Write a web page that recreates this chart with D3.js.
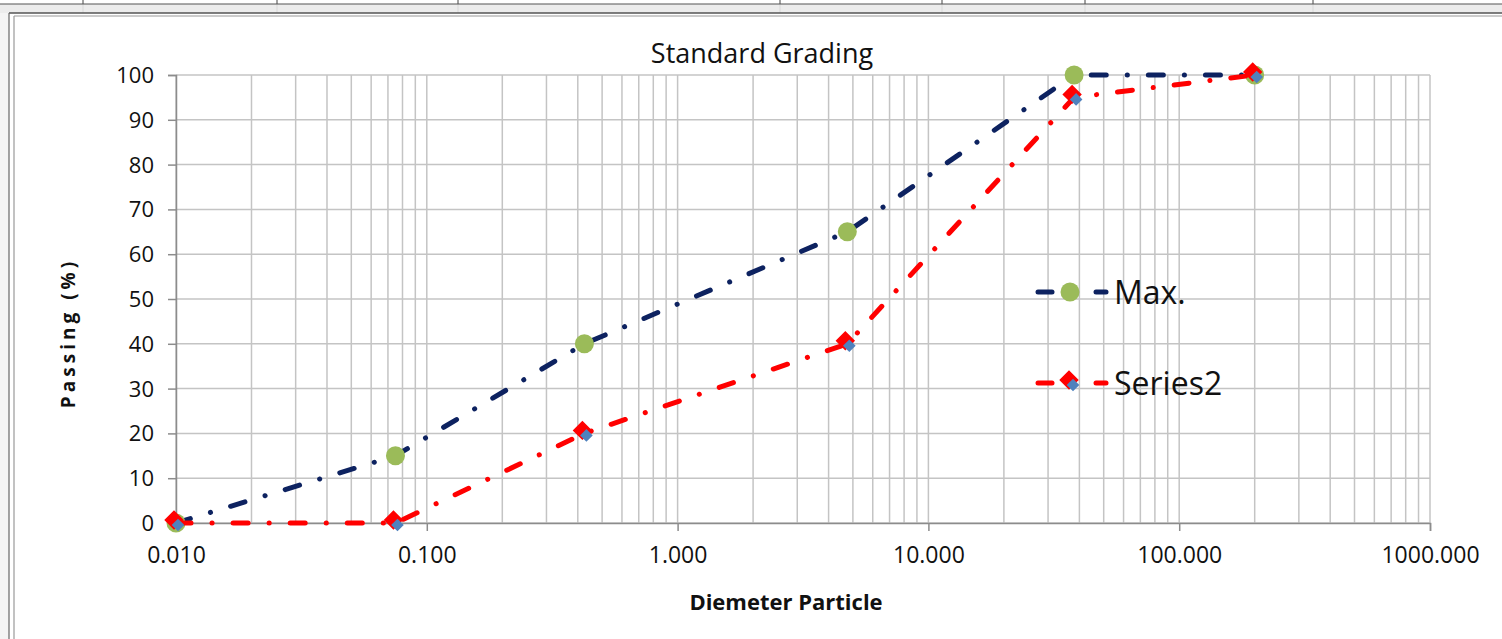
<!DOCTYPE html>
<html><head><meta charset="utf-8">
<script src="https://cdn.jsdelivr.net/npm/d3@7"></script>
<style>
html,body{margin:0;padding:0;background:#fff;}
svg{display:block;}
text{font-family:"Open Sans",sans-serif;}
</style></head>
<body>
<script>
// ---- data ----
const sizes = [0.01, 0.075, 0.425, 4.75, 38.1, 200];
const maxValues = [0, 15, 40, 65, 100, 100];
const series2Values = [0, 0, 20, 40, 95, 100];
const seriesNames = ["Max.", "Series2"];
const xTickValues = [0.01, 0.1, 1, 10, 100, 1000];
const yTickValues = [0, 10, 20, 30, 40, 50, 60, 70, 80, 90, 100];
const chartTitle = "Standard Grading";
const xTitle = "Diemeter Particle";
const yTitle = "Passing (%)";

const W = 1502, H = 639;
const svg = d3.select("body").append("svg").attr("width", W).attr("height", H);

// spreadsheet backdrop
svg.append("rect").attr("x",0).attr("y",0).attr("width",W).attr("height",H).attr("fill","#fff");
svg.append("rect").attr("x",0).attr("y",4).attr("width",W).attr("height",9).attr("fill","#ececec");
[83,277,458,780,942,1085,1313].forEach(x=>{
  svg.append("line").attr("x1",x).attr("x2",x).attr("y1",0).attr("y2",4).attr("stroke","#444").attr("stroke-width",1);
  svg.append("line").attr("x1",x).attr("x2",x).attr("y1",4).attr("y2",13).attr("stroke","#d8d8d8").attr("stroke-width",1);
});
svg.append("line").attr("x1",0).attr("x2",W).attr("y1",4).attr("y2",4).attr("stroke","#555").attr("stroke-width",1.2);
svg.append("line").attr("x1",9).attr("x2",W).attr("y1",13).attr("y2",13).attr("stroke","#555").attr("stroke-width",1.5);
svg.append("rect").attr("x",0).attr("y",13).attr("width",9).attr("height",H-13).attr("fill","#f4f4f4");
svg.append("line").attr("x1",9).attr("x2",9).attr("y1",13).attr("y2",H).attr("stroke","#666").attr("stroke-width",1.2);
svg.append("line").attr("x1",14).attr("x2",14).attr("y1",16).attr("y2",H).attr("stroke","#999").attr("stroke-width",1.2);
svg.append("line").attr("x1",14).attr("x2",W).attr("y1",16).attr("y2",16).attr("stroke","#999").attr("stroke-width",1.2);

// scales
const x = d3.scaleLog().domain([0.01, 1000]).range([176, 1430]);
const y = d3.scaleLinear().domain([0, 100]).range([523, 75]);

// gridlines
const g = svg.append("g");
const minor = [];
for (let e = -2; e < 3; e++) for (let m = 1; m <= 9; m++) minor.push(m * Math.pow(10, e));
minor.push(1000);
g.selectAll(".vg").data(minor).join("line")
  .attr("x1", d=>x(d)).attr("x2", d=>x(d)).attr("y1", y(0)).attr("y2", y(100))
  .attr("stroke", "#c4c4c4").attr("stroke-width", 1.5);
g.selectAll(".hg").data(yTickValues).join("line")
  .attr("x1", x(0.01)).attr("x2", x(1000)).attr("y1", d=>y(d)).attr("y2", d=>y(d))
  .attr("stroke", "#c4c4c4").attr("stroke-width", 1.5);

// axes
const yAxis = svg.append("g").attr("transform", `translate(${x(0.01)},0)`)
  .call(d3.axisLeft(y).tickValues(yTickValues).tickSize(8).tickPadding(14).tickFormat(d3.format("d")));
const xAxis = svg.append("g").attr("transform", `translate(0,${y(0)})`)
  .call(d3.axisBottom(x).tickValues(xTickValues).tickSize(8).tickPadding(16).tickFormat(d3.format(".3f")));
[yAxis, xAxis].forEach(a=>{
  a.select(".domain").attr("stroke","#8c8c8c").attr("stroke-width",1.5);
  a.selectAll(".tick line").attr("stroke","#8c8c8c").attr("stroke-width",1.5);
  a.selectAll("text").attr("fill","#111").style("font-family","'Open Sans',sans-serif");
});
yAxis.selectAll("text").style("font-size","22px").attr("dy","0.34em");
xAxis.selectAll("text").style("font-size","23px");

// titles
svg.append("text").attr("x", 762).attr("y", 63).attr("text-anchor","middle")
  .style("font-size","27px").attr("fill","#111").text(chartTitle);
svg.append("text").attr("x", 786).attr("y", 610).attr("text-anchor","middle")
  .style("font-size","22px").style("font-weight","bold").attr("fill","#111")
  .text(xTitle);
svg.append("text").attr("transform","translate(75,333) rotate(-90)").attr("text-anchor","middle")
  .style("font-size","19px").style("font-weight","bold").style("letter-spacing","4px").attr("fill","#111")
  .text(yTitle);

// series
const navy = "#0d2260", red = "#ff0000", green = "#9bbb59", blue = "#4f81bd";
const dash = "15 21 0.1 21";
const line = d3.line().x(d=>x(d[0])).y(d=>y(d[1]));
const maxData = sizes.map((s,i)=>[s, maxValues[i]]);
const s2Data = sizes.map((s,i)=>[s, series2Values[i]]);
const sq = d3.symbol().type(d3.symbolSquare);

function drawDiamond(sel, cx, cy){
  sel.append("path").attr("d", sq.size(150)()).attr("transform",`translate(${cx-2},${cy-3}) rotate(45)`)
    .attr("fill", red).attr("stroke", red).attr("stroke-width", 1.5);
  sel.append("path").attr("d", sq.size(80)()).attr("transform",`translate(${cx+2},${cy+2}) rotate(45)`)
    .attr("fill", blue);
}

svg.append("path").datum(maxData).attr("d", line).attr("fill","none")
  .attr("stroke", navy).attr("stroke-width", 5).attr("stroke-linecap","round").attr("stroke-dasharray", dash);
svg.selectAll(".mc").data(maxData).join("circle").attr("cx", d=>x(d[0])).attr("cy", d=>y(d[1]))
  .attr("r", 9.5).attr("fill", green);

svg.append("path").datum(s2Data).attr("d", line).attr("fill","none")
  .attr("stroke", red).attr("stroke-width", 5).attr("stroke-linecap","round").attr("stroke-dasharray", dash);
const mk = svg.append("g");
s2Data.forEach(d=> drawDiamond(mk, x(d[0]), y(d[1])));

// legend
const lg = svg.append("g");
const legendY = [292, 383];
[navy, red].forEach((c,i)=>{
  const ly = legendY[i];
  lg.append("line").attr("x1",1038).attr("x2",1052).attr("y1",ly).attr("y2",ly).attr("stroke",c).attr("stroke-width",5).attr("stroke-linecap","round");
  lg.append("line").attr("x1",1096).attr("x2",1106).attr("y1",ly).attr("y2",ly).attr("stroke",c).attr("stroke-width",5).attr("stroke-linecap","round");
  if (i===0) lg.append("circle").attr("cx",1070).attr("cy",ly).attr("r",9.5).attr("fill",green);
  else drawDiamond(lg, 1071, ly);
  lg.append("text").attr("x",1114).attr("y",ly).attr("dy","0.36em").style("font-size","32px").attr("fill","#111").text(seriesNames[i]);
});
</script>
</body></html>
